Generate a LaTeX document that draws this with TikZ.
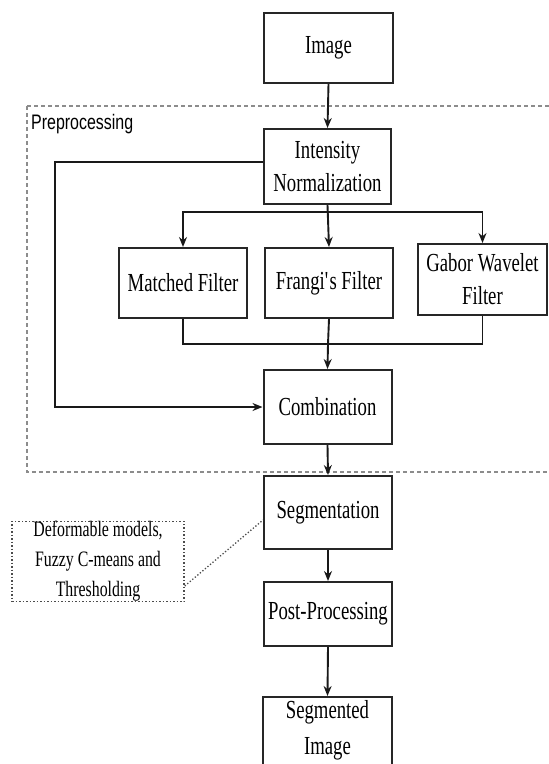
\documentclass[tikz,border=0pt]{standalone}
\usepackage{fontspec}
\setmainfont{Liberation Serif}[FakeStretch=0.72]
\setsansfont{Liberation Sans}[FakeStretch=0.76]
\usetikzlibrary{arrows.meta}
\begin{document}
\begin{tikzpicture}[x=1pt,y=-1pt,
  box/.style={draw=black!85,line width=2pt,fill=white,inner sep=0pt,align=center,
    font=\fontsize{26}{33}\selectfont},
  arr/.style={line width=1.9pt,draw=black!90,-{Stealth[length=10pt,width=8pt]}},
  ln/.style={line width=1.9pt,draw=black!90},
  grp/.style={draw=black!45,line width=1.1pt,dash pattern=on 4pt off 3pt},
  ann/.style={draw=black!70,line width=1.5pt,dotted,inner sep=0pt,align=center,
    font=\fontsize{22}{30}\selectfont},
  lbl/.style={font=\sffamily\fontsize{21}{24}\selectfont,inner sep=0pt}]
\useasboundingbox (0,0) rectangle (549,764);
\clip (0,0) rectangle (549,764);
% group
\draw[grp] (27,106) -- (560,106) (27,106) -- (27,472) -- (560,472);
\node[lbl,anchor=base west] (pre) at (31,129) {Preprocessing};
% nodes
\node[box,minimum width=129pt,minimum height=70pt] (img) at (328.5,48) {Image};
\node[box,minimum width=127pt,minimum height=75pt] (norm) at (327.5,166.5) {Intensity\\Normalization};
\node[box,minimum width=128pt,minimum height=70pt] (mf) at (183,283) {Matched Filter};
\node[box,minimum width=128pt,minimum height=70pt] (ff) at (329,283) {Frangi\textquotesingle s Filter};
\node[box,minimum width=129pt,minimum height=71pt] (gw) at (482.5,279.5) {Gabor Wavelet\\Filter};
\node[box,minimum width=128pt,minimum height=74pt] (comb) at (327.5,407) {Combination};
\node[box,minimum width=128pt,minimum height=73pt] (seg) at (328,512.5) {Segmentation};
\node[box,minimum width=128pt,minimum height=64pt] (post) at (328,614) {Post-Processing};
\node[box,minimum width=129pt,minimum height=80pt] (segimg) at (327.5,737) {};
\node[align=center,inner sep=0pt,font=\fontsize{26}{36}\selectfont] (segimgt) at (327.5,730) {Segmented\\Image};
\node[ann,minimum width=172pt,minimum height=73pt] (note) at (98,561.5) {Deformable models,\\Fuzzy C-means and\\Thresholding};
% connectors
\coordinate (b1) at (328,212);
\coordinate (b2) at (328,344);
\coordinate (lp) at (55,162);
\draw[arr] (img.south) -- (norm.north);
\draw[arr] (norm.south) -- (ff.north);
\draw[arr] (b1) -| (mf.north);
\draw[arr] (b1) -| (gw.north);
\draw[ln] (mf.south) |- (b2);
\draw[ln] (gw.south) |- (b2);
\draw[ln] (ff.south) -- (b2);
\draw[arr] (b2) -- (comb.north);
\draw[arr] ([yshift=4.5pt]norm.west) -- (lp) |- (comb.west);
\draw[arr] (comb.south) -- (seg.north);
\draw[arr] (seg.south) -- (post.north);
\draw[arr] (post.south) -- (segimg.north);
\draw[draw=black!70,line width=1.3pt,dotted] ([yshift=-24.5pt]note.east) -- ([yshift=-7.5pt]seg.west);
\end{tikzpicture}
\end{document}
